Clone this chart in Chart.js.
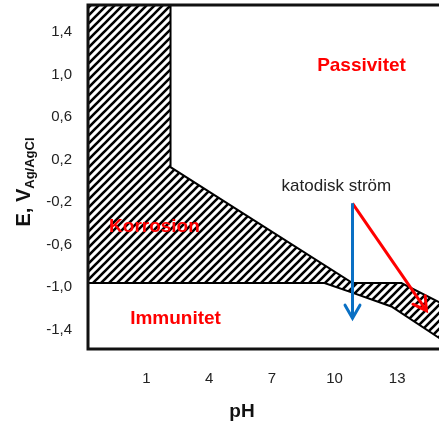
<!DOCTYPE html>
<html>
<head>
<meta charset="utf-8">
<script src="https://cdn.jsdelivr.net/npm/chart.js@4.4.0/dist/chart.umd.min.js"></script>
<style>
html, body { margin: 0; padding: 0; background: #fff; }
</style>
</head>
<body>
<canvas id="chart" width="439" height="424"></canvas>
<script>
// tick values on both axes
const phTicks = [1, 4, 7, 10, 13]
const eTicks = [-1.4, -1.0, -0.6, -0.2, 0.2, 0.6, 1.0, 1.4]

// outline of the hatched (korrosion) zone, walked round and closed
const zonePH = [-1.8, 2.15, 2.15, 10.86, 13.2, 15.5, 15.5, 12.72, 10.71, 9.52, -1.8, -1.8]
const zoneE = [1.655, 1.655, 0.13, -0.96, -0.96, -1.19, -1.54, -1.18, -1.04, -0.96, -0.96, 1.655]

// katodisk ström arrows: same start, two ends
const bluePH = [10.86, 10.86]
const blueE = [-0.21, -1.29]
const redPH = [10.86, 14.4]
const redE = [-0.21, -1.22]

// region names and where they sit (pH, E)
const regionNames = ["Passivitet", "Korrosion", "Immunitet"]
const regionPH = [11.29, 1.38, 2.39]
const regionE = [1.08, -0.43, -1.30]
const arrowCaption = "katodisk ström"
const captionPH = 10.09
const captionE = -0.05

const FONT = "'Liberation Sans', Arial, sans-serif"

function pts(xs, ys) {
    return xs.map((x, i) => ({ x: x, y: ys[i] }))
}

function hatch() {
    const s = 8
    const c = document.createElement("canvas")
    c.width = s
    c.height = s
    const g = c.getContext("2d")
    g.strokeStyle = "#000"
    g.lineWidth = 2.6
    g.beginPath()
    g.moveTo(-1, s + 1); g.lineTo(s + 1, -1)
    g.moveTo(-2, 2); g.lineTo(2, -2)
    g.moveTo(s - 2, s + 2); g.lineTo(s + 2, s - 2)
    g.stroke()
    return g.createPattern(c, "repeat")
}

const extras = {
    id: "extras",
    afterDatasetsDraw(chart) {
        const ctx = chart.ctx
        const a = chart.chartArea
        const xs = chart.scales.x
        const ys = chart.scales.y

        // arrow heads on the two arrow datasets
        for (let i = 0; i < 2; i++) {
            const ds = chart.data.datasets[i]
            const p = chart.getDatasetMeta(i).data
            const p0 = p[p.length - 2], p1 = p[p.length - 1]
            const ang = Math.atan2(p1.y - p0.y, p1.x - p0.x)
            const len = 15, spread = 0.52
            ctx.save()
            ctx.strokeStyle = ds.borderColor
            ctx.lineWidth = 3
            ctx.lineCap = "round"
            ctx.beginPath()
            ctx.moveTo(p1.x - len * Math.cos(ang - spread), p1.y - len * Math.sin(ang - spread))
            ctx.lineTo(p1.x, p1.y)
            ctx.lineTo(p1.x - len * Math.cos(ang + spread), p1.y - len * Math.sin(ang + spread))
            ctx.stroke()
            ctx.restore()
        }

        // frame: left, top, bottom
        ctx.save()
        ctx.strokeStyle = "#111"
        ctx.lineWidth = 3
        ctx.beginPath()
        ctx.moveTo(chart.width + 5, a.top)
        ctx.lineTo(a.left, a.top)
        ctx.lineTo(a.left, a.bottom)
        ctx.lineTo(chart.width + 5, a.bottom)
        ctx.stroke()
        ctx.restore()

        // region names
        ctx.save()
        ctx.textAlign = "center"
        ctx.textBaseline = "middle"
        ctx.fillStyle = "#ff0000"
        ctx.font = "bold 19px " + FONT
        regionNames.forEach((t, i) => {
            ctx.fillText(t, xs.getPixelForValue(regionPH[i]), ys.getPixelForValue(regionE[i]))
        })
        ctx.fillStyle = "#222"
        ctx.font = "17px " + FONT
        ctx.fillText(arrowCaption, xs.getPixelForValue(captionPH), ys.getPixelForValue(captionE))
        ctx.restore()
    },
    afterDraw(chart) {
        const ctx = chart.ctx
        ctx.save()
        ctx.fillStyle = "#111"
        // x title
        ctx.font = "bold 19px " + FONT
        ctx.textAlign = "center"
        ctx.textBaseline = "alphabetic"
        ctx.fillText("pH", 242, 417)
        // y title with subscript
        const main = "E, V", sub = "Ag/AgCl"
        ctx.font = "bold 20px " + FONT
        const w1 = ctx.measureText(main).width
        ctx.font = "bold 13px " + FONT
        const w2 = ctx.measureText(sub).width
        ctx.translate(30, 182)
        ctx.rotate(-Math.PI / 2)
        ctx.textAlign = "left"
        ctx.font = "bold 20px " + FONT
        ctx.fillText(main, -(w1 + w2) / 2, 0)
        ctx.font = "bold 13px " + FONT
        ctx.fillText(sub, -(w1 + w2) / 2 + w1, 4)
        ctx.restore()
    }
}

new Chart(document.getElementById("chart"), {
    type: "scatter",
    data: {
        datasets: [
            {
                data: pts(bluePH, blueE),
                showLine: true,
                borderColor: "#0a70c4",
                borderWidth: 3,
                pointRadius: 0,
                fill: false
            },
            {
                data: pts(redPH, redE),
                showLine: true,
                borderColor: "#ff0000",
                borderWidth: 3,
                pointRadius: 0,
                fill: false
            },
            {
                data: pts(zonePH, zoneE),
                showLine: true,
                borderColor: "#000",
                borderWidth: 2,
                pointRadius: 0,
                backgroundColor: hatch(),
                fill: "shape"
            }
        ]
    },
    options: {
        responsive: false,
        animation: false,
        layout: { padding: { top: 5, right: 0, left: 0, bottom: 0 } },
        plugins: { legend: { display: false }, tooltip: { enabled: false } },
        scales: {
            x: {
                type: "linear",
                min: -1.8,
                max: 15,
                afterBuildTicks: s => { s.ticks = phTicks.map(v => ({ value: v })) },
                afterFit: s => { s.height = 75; s.paddingLeft = 0; s.paddingRight = 0 },
                grid: { display: false, drawTicks: false },
                border: { display: false },
                ticks: {
                    color: "#222",
                    font: { size: 15, family: FONT },
                    padding: 21,
                    maxRotation: 0,
                    autoSkip: false,
                    callback: v => String(v)
                }
            },
            y: {
                type: "linear",
                min: -1.58,
                max: 1.655,
                afterBuildTicks: s => { s.ticks = eTicks.map(v => ({ value: v })) },
                afterFit: s => { s.width = 88; s.paddingTop = 0; s.paddingBottom = 0 },
                grid: { display: false, drawTicks: false },
                border: { display: false },
                ticks: {
                    color: "#222",
                    font: { size: 15, family: FONT },
                    padding: 16,
                    autoSkip: false,
                    callback: v => v.toFixed(1).replace(".", ",")
                }
            }
        }
    },
    plugins: [extras]
})
</script>
</body>
</html>
